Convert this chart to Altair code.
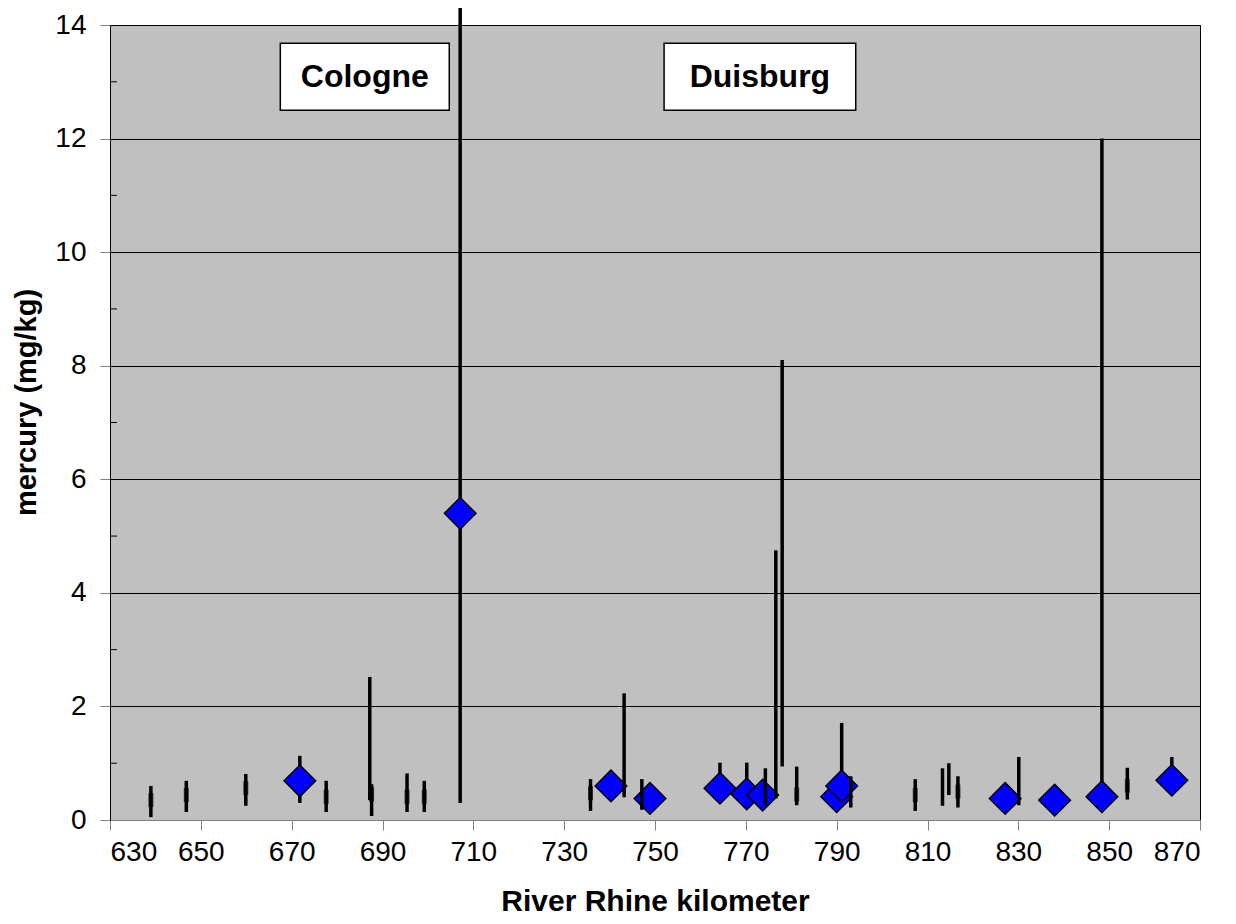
import altair as alt
import pandas as pd

# vertical range bars (min-max) at river kilometres
bar_km = [639.0, 646.8, 659.9, 671.8, 677.6, 687.2, 687.6, 695.4, 699.2, 707.1,
          735.8, 743.2, 747.1, 764.3, 770.2, 774.3, 776.6, 778.0, 781.2, 791.1,
          793.1, 807.3, 813.3, 814.7, 816.7, 830.1, 848.4, 854.0, 863.8]
bar_low = [0.05, 0.14, 0.25, 0.30, 0.14, 0.35, 0.07, 0.14, 0.14, 0.30,
           0.16, 0.40, 0.18, 0.35, 0.30, 0.26, 0.38, 0.94, 0.26, 0.40,
           0.22, 0.16, 0.25, 0.44, 0.22, 0.26, 0.41, 0.36, 0.55]
bar_high = [0.60, 0.69, 0.81, 1.13, 0.69, 2.52, 0.63, 0.82, 0.69, 14.3,
            0.72, 2.23, 0.72, 1.01, 1.01, 0.91, 4.75, 8.10, 0.94, 1.71,
            0.77, 0.72, 0.91, 1.00, 0.77, 1.11, 12.0, 0.92, 1.11]
bar_group = ["over", "over", "over", "under", "over", "over", "over", "over", "over", "under",
             "over", "over", "over", "under", "under", "over", "over", "over", "over", "under",
             "over", "over", "over", "over", "over", "over", "under", "over", "under"]

# thicker middle segments on small bars
mid_km = [639.0, 646.8, 659.9, 677.6, 687.6, 695.4, 699.2, 735.8, 781.2, 807.3, 816.7, 854.0]
mid_val = [0.35, 0.44, 0.56, 0.41, 0.45, 0.41, 0.41, 0.47, 0.45, 0.44, 0.50, 0.60]

# mean values (diamonds)
mean_km = [671.8, 707.1, 740.3, 748.9, 764.3, 770.2, 773.7, 790.0, 791.1, 827.1, 838.0, 848.4, 863.8]
mean_val = [0.69, 5.40, 0.60, 0.38, 0.56, 0.46, 0.44, 0.41, 0.60, 0.38, 0.35, 0.41, 0.70]

x_ticks = [630, 650, 670, 690, 710, 730, 750, 770, 790, 810, 830, 850, 870]
y_ticks = [0, 2, 4, 6, 8, 10, 12, 14]
y_minor = [1, 3, 5, 7, 9, 11, 13]

city_names = ["Cologne", "Duisburg"]
city_x1 = [667.5, 752.0]
city_x2 = [704.7, 794.2]
city_y1 = [12.50, 12.50]
city_y2 = [13.68, 13.68]

FONT = "Liberation Sans"

bars = pd.DataFrame({"km": bar_km, "low": bar_low, "high": bar_high, "grp": bar_group})
mids = pd.DataFrame({"km": mid_km, "v": mid_val})
means = pd.DataFrame({"km": mean_km, "v": mean_val})
minor = pd.DataFrame({"v": y_minor})
cities = pd.DataFrame({"name": city_names, "x1": city_x1, "x2": city_x2,
                       "y1": city_y1, "y2": city_y2,
                       "xc": [(a + b) / 2 for a, b in zip(city_x1, city_x2)],
                       "yc": [(a + b) / 2 for a, b in zip(city_y1, city_y2)]})

xs = alt.Scale(domain=[630, 870], nice=False, zero=False)
ys = alt.Scale(domain=[0, 14], nice=False, zero=True)

x_axis = alt.Axis(values=x_ticks, title="River Rhine kilometer", grid=False, format="d",
                  tickSize=10, tickColor="#808080", domainColor="#808080",
                  labelFontSize=28, labelPadding=8, labelFont=FONT, labelColor="black",
                  titleFont=FONT, titleFontSize=30, titleFontWeight="bold",
                  titleColor="black", titlePadding=20)
y_axis = alt.Axis(values=y_ticks, title="mercury (mg/kg)", grid=True, format="d",
                  gridColor="black", gridWidth=1, tickSize=10, tickColor="#808080",
                  domainColor="black", labelFontSize=28, labelPadding=14, labelFont=FONT,
                  labelColor="black", titleFont=FONT, titleFontSize=29,
                  titleFontWeight="bold", titleColor="black",
                  titleX=-84, titleY=377, titleAngle=270, titleBaseline="middle",
                  titleAlign="center")

base_axes = alt.Chart(means).mark_point(opacity=0).encode(
    x=alt.X("km:Q", scale=xs, axis=x_axis),
    y=alt.Y("v:Q", scale=ys, axis=y_axis),
)

minor_ticks = alt.Chart(minor).mark_rule(color="black", strokeWidth=1).encode(
    x=alt.value(0), x2=alt.value(7), y=alt.Y("v:Q", scale=ys)
)

under_bars = alt.Chart(bars).transform_filter(alt.datum.grp == "under").mark_rule(
    color="black", strokeWidth=3.5).encode(
    x=alt.X("km:Q", scale=xs), y=alt.Y("low:Q", scale=ys), y2="high:Q")

diamonds = alt.Chart(means).mark_point(
    shape="diamond", filled=True, fill="#0000FF", stroke="black", strokeWidth=1.5,
    size=1000, opacity=1).encode(
    x=alt.X("km:Q", scale=xs), y=alt.Y("v:Q", scale=ys))

over_bars = alt.Chart(bars).transform_filter(alt.datum.grp == "over").mark_rule(
    color="black", strokeWidth=3.5).encode(
    x=alt.X("km:Q", scale=xs), y=alt.Y("low:Q", scale=ys), y2="high:Q")

mid_ticks = alt.Chart(mids).mark_tick(color="black", orient="vertical",
                                      thickness=5, size=14).encode(
    x=alt.X("km:Q", scale=xs), y=alt.Y("v:Q", scale=ys))

boxes = alt.Chart(cities).mark_rect(fill="white", stroke="black", strokeWidth=1.5).encode(
    x=alt.X("x1:Q", scale=xs), x2="x2:Q", y=alt.Y("y1:Q", scale=ys), y2="y2:Q")

labels = alt.Chart(cities).mark_text(font=FONT, fontSize=32, fontWeight="bold",
                                     color="black", baseline="middle", align="center").encode(
    x=alt.X("xc:Q", scale=xs), y=alt.Y("yc:Q", scale=ys), text="name:N")

chart = alt.layer(base_axes, minor_ticks, under_bars, diamonds, over_bars, mid_ticks,
                  boxes, labels).properties(
    width=1090, height=795,
    autosize=alt.AutoSizeParams(type="none"),
    padding={"left": 102, "top": 17, "right": 26, "bottom": 100},
    background="white",
).configure_view(fill="#C0C0C0", stroke="black", strokeWidth=1)

chart.save("out.html", embed_options={"renderer": "svg", "actions": False})
